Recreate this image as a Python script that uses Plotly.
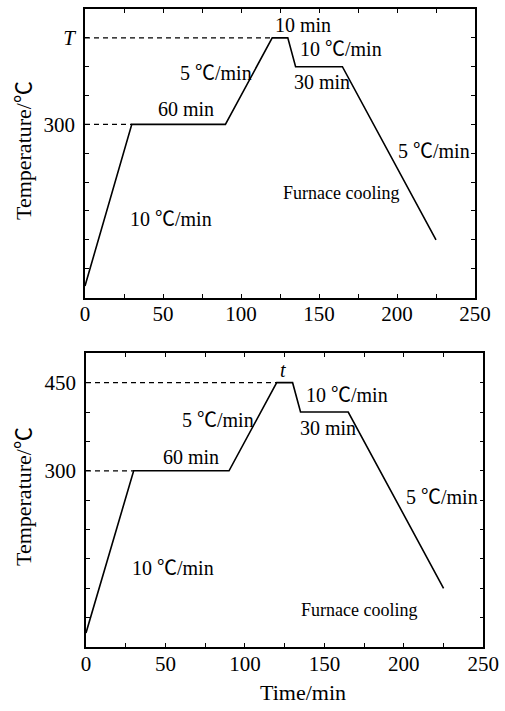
import plotly.graph_objects as go

# ---- data ----
time_top = [0, 30, 90, 120, 130, 135, 165, 225]
temp_top = [20, 300, 300, 450, 450, 400, 400, 100]
time_bot = [0, 30, 90, 120, 130, 135, 165, 225]
temp_bot = [24, 300, 300, 450, 450, 400, 400, 100]

ref_300_x = [0, 30]
ref_300_y = [300, 300]
ref_450_x = [0, 120]
ref_450_y = [450, 450]

x_tickvals = [0, 25, 50, 75, 100, 125, 150, 175, 200, 225, 250]
x_ticktext = ["0", "", "50", "", "100", "", "150", "", "200", "", "250"]
y_tickvals = [0, 50, 100, 150, 200, 250, 300, 350, 400, 450, 500]
y_ticktext_top = ["", "", "", "", "", "", "300", "", "", "<i>T</i>", ""]
y_ticktext_bot = ["", "", "", "", "", "", "300", "", "", "450", ""]

labels_top = [
    ("10 min", 140, 472, 20),
    ("10 ℃/min", 164, 431, 20),
    ("30 min", 152, 373, 20),
    ("5 ℃/min", 224, 254, 20),
    ("Furnace cooling", 164, 181, 18),
    ("5 ℃/min", 84, 389, 20),
    ("60 min", 65, 326, 20),
    ("10 ℃/min", 55, 136, 20),
]
labels_bot = [
    ("<i>t</i>", 124, 472, 20),
    ("10 ℃/min", 164, 429, 20),
    ("30 min", 152, 373, 20),
    ("5 ℃/min", 224, 256, 20),
    ("Furnace cooling", 172, 63, 18),
    ("5 ℃/min", 83, 387, 20),
    ("60 min", 66, 324, 20),
    ("10 ℃/min", 55, 135, 20),
]

FONT = "Liberation Serif, Noto Sans CJK SC"

fig = go.Figure()
for xa, ya, tx, ty in [("x", "y", time_top, temp_top), ("x2", "y2", time_bot, temp_bot)]:
    fig.add_trace(go.Scatter(x=tx, y=ty, mode="lines", xaxis=xa, yaxis=ya,
                             line=dict(color="black", width=1.6), showlegend=False,
                             hoverinfo="skip"))
    for rx, ry in [(ref_300_x, ref_300_y), (ref_450_x, ref_450_y)]:
        fig.add_trace(go.Scatter(x=rx, y=ry, mode="lines", xaxis=xa, yaxis=ya,
                                 line=dict(color="black", width=1.2, dash="5px,4px"),
                                 showlegend=False, hoverinfo="skip"))

def xaxis(domain, anchor):
    return dict(domain=domain, anchor=anchor, range=[0, 250], showline=True,
                linecolor="black", linewidth=1.5, mirror="ticks", ticks="inside",
                ticklen=4, tickwidth=1, tickcolor="black", tickvals=x_tickvals,
                ticktext=x_ticktext, showgrid=False, zeroline=False,
                ticklabelstandoff=-3,
                tickfont=dict(family=FONT, size=21, color="black"), automargin=False)

def yaxis(domain, anchor, ticktext):
    return dict(domain=domain, anchor=anchor, range=[0, 500], showline=True,
                linecolor="black", linewidth=1.5, mirror="ticks", ticks="inside",
                ticklen=4, tickwidth=1, tickcolor="black", tickvals=y_tickvals,
                ticktext=ticktext, showgrid=False, zeroline=False,
                ticklabelstandoff=4,
                tickfont=dict(family=FONT, size=21, color="black"), automargin=False)

annotations = []
for txt, x, y, s in labels_top:
    annotations.append(dict(text=txt, x=x, y=y, xref="x", yref="y", showarrow=False,
                            xanchor="center", yanchor="middle",
                            font=dict(family=FONT, size=s, color="black")))
for txt, x, y, s in labels_bot:
    annotations.append(dict(text=txt, x=x, y=y, xref="x2", yref="y2", showarrow=False,
                            xanchor="center", yanchor="middle",
                            font=dict(family=FONT, size=s, color="black")))

# axis titles
for yc in (151, 497):
    annotations.append(dict(text="Temperature/℃", x=23 / 505, y=1 - yc / 711, xref="paper",
                            yref="paper", showarrow=False, textangle=-90,
                            xanchor="center", yanchor="middle",
                            font=dict(family=FONT, size=22, color="black")))
annotations.append(dict(text="Time/min", x=303 / 505, y=1 - 692 / 711, xref="paper",
                        yref="paper", showarrow=False, xanchor="center", yanchor="middle",
                        font=dict(family=FONT, size=22, color="black")))

fig.update_layout(
    width=505, height=711,
    margin=dict(l=0, r=0, t=0, b=0),
    paper_bgcolor="white", plot_bgcolor="white",
    xaxis=xaxis([85 / 505, 475 / 505], "y"),
    yaxis=yaxis([1 - 297.5 / 711, 1 - 9 / 711], "x", y_ticktext_top),
    xaxis2=xaxis([86 / 505, 483.3 / 505], "y2"),
    yaxis2=yaxis([1 - 647 / 711, 1 - 353.3 / 711], "x2", y_ticktext_bot),
    annotations=annotations,
    hovermode=False,
)

fig.write_html("out.html", config={"displayModeBar": False},
               post_script="document.body.style.margin='0';document.body.style.overflow='hidden';")
